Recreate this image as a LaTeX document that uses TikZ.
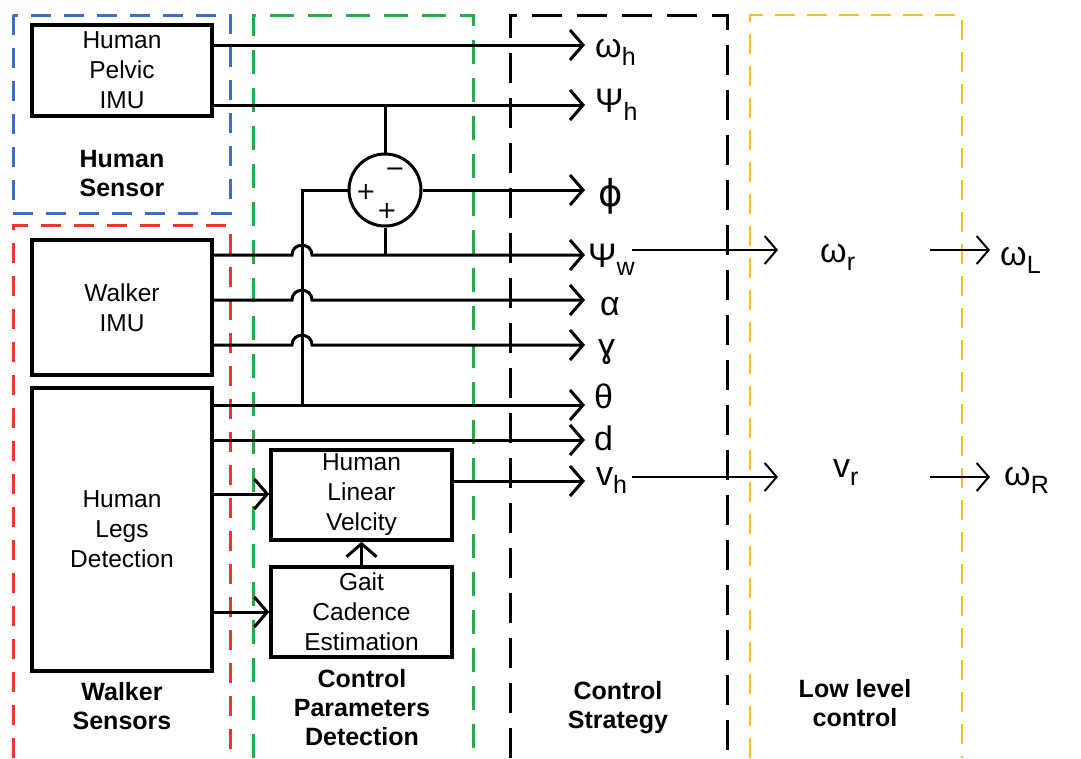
\documentclass[tikz,border=0pt]{standalone}
\usepackage{fontspec}
\setmainfont{Liberation Sans}
\newfontfamily\dvs{DejaVu Sans}
\usetikzlibrary{arrows.meta}
\definecolor{cblue}{RGB}{60,110,200}
\definecolor{cgreen}{RGB}{40,170,75}
\definecolor{cred}{RGB}{235,55,45}
\definecolor{cyellow}{RGB}{245,190,35}
\newcommand\sbs[1]{\raisebox{-8pt}{\fontsize{25}{25}\selectfont #1}}
\begin{document}
\begin{tikzpicture}[x=1pt,y=-1pt,
  box/.style={draw, line width=3.5pt, align=center, font=\fontsize{24.5}{30}\selectfont, inner sep=0pt},
  ttl/.style={align=center, font=\bfseries\fontsize{25}{29}\selectfont},
  lab/.style={anchor=base west, inner sep=0pt, font=\fontsize{34}{34}\selectfont},
  ln/.style={line width=3pt},
  arr/.style={line width=3pt, -{Straight Barb[length=13pt,width=30pt,line width=3pt]}},
  arr2/.style={line width=2pt, -{Straight Barb[length=12pt,width=28pt,line width=2pt]}},
  grp/.style={line width=3pt, dash pattern=on 20pt off 13pt}]
\useasboundingbox (0,0) rectangle (1081,758);
\fill[white] (0,0) rectangle (1081,758);
% group frames
\draw[grp, cblue] (13,15) rectangle (230,213);
\draw[grp, cred] (13,758) -- (13,225) -- (230,225) -- (230,758);
\draw[grp, cgreen, dash pattern=on 24pt off 14pt] (253,758) -- (253,15) -- (473,15) -- (473,758);
\draw[grp, black, dash pattern=on 30pt off 15pt] (510,758) -- (510,15) -- (727,15) -- (727,758);
\draw[grp, cyellow, line width=2.5pt, dash pattern=on 20pt off 12pt] (750,758) -- (750,15) -- (962,15) -- (962,758);
% titles
\node[ttl] (tHS) at (122,174) {Human\\Sensor};
\node[ttl] (tWS) at (122,706) {Walker\\Sensors};
\node[ttl] (tCP) at (362,708) {Control\\Parameters\\Detection};
\node[ttl] (tCS) at (618,708) {Control\\Strategy};
\node[ttl] (tLL) at (855,703) {Low level\\control};
% blocks
\node[box, minimum width=180pt, minimum height=91pt] (pelvic) at (122,70.5) {Human\\Pelvic\\IMU};
\node[box, minimum width=180pt, minimum height=135pt] (wimu) at (122,307.5) {Walker\\IMU};
\node[box, minimum width=180pt, minimum height=283pt] (legs) at (122,529.5) {Human\\Legs\\Detection};
\node[box, minimum width=181pt, minimum height=90pt] (hlv) at (361.5,495) {Human\\Linear\\Velcity};
\node[box, minimum width=181pt, minimum height=90pt] (gait) at (361.5,612) {Gait\\Cadence\\Estimation};
\node[circle, draw, line width=3pt, minimum size=72pt, inner sep=0pt] (sum) at (385,190) {};
\node[inner sep=0pt, font=\fontsize{24}{24}\selectfont] (sm) at (395,172) {\dvs −};
\node[inner sep=0pt, font=\fontsize{24}{24}\selectfont] (sp1) at (366,192) {\dvs +};
\node[inner sep=0pt, font=\fontsize{24}{24}\selectfont] (sp2) at (387,211) {\dvs +};
% arrow tips (free ends)
\coordinate (t1) at (585,45);
\coordinate (t2) at (585,105);
\coordinate (t3) at (585,190);
\coordinate (t4) at (585,255);
\coordinate (t5) at (585,300);
\coordinate (t6) at (585,345);
\coordinate (t7) at (585,405);
\coordinate (t8) at (585,440);
\coordinate (t9) at (585,481);
\coordinate (j) at (302,190);
% labels
\node[lab] (wh) at (595,57) {ω\sbs{h}};
\node[lab] (ph) at (595,112) {Ψ\sbs{h}};
\node[lab, font=\fontsize{37}{37}\selectfont] (phi) at (598,206) {\dvs ϕ};
\node[lab] (pw) at (588,267) {Ψ\sbs{w}};
\node[lab] (al) at (600,315) {α};
\node[lab] (ga) at (598,357) {ɣ};
\node[lab] (th) at (594,408) {θ};
\node[lab] (dd) at (594,450) {d};
\node[lab] (vh) at (596,485) {v\sbs{h}};
\node[lab] (wr) at (820,262) {ω\sbs{r}};
\node[lab] (wl) at (1000,265) {ω\sbs{L}};
\node[lab] (vr) at (833,477) {v\sbs{r}};
\node[lab] (wR) at (1004,485) {ω\sbs{R}};
% connectors
\draw[arr] (pelvic.east |- t1) -- (t1);
\draw[arr] (pelvic.east |- t2) -- (t2);
\draw[ln] (sum.north) -- (sum.north |- t2);
\draw[arr] (sum.east) -- (sum.east -| t3);
\draw[ln] (sum.west) -- (j) -- (j |- t7);
\draw[ln] (sum.south) -- (sum.south |- t4);
\draw[arr] (wimu.east |- t4) -- (292,255) .. controls (292,242) and (312,242) .. (312,255) -- (t4);
\draw[arr] (wimu.east |- t5) -- (292,300) .. controls (292,287) and (312,287) .. (312,300) -- (t5);
\draw[arr] (wimu.east |- t6) -- (292,345) .. controls (292,332) and (312,332) .. (312,345) -- (t6);
\draw[arr] (legs.east |- t7) -- (t7);
\draw[arr] (legs.east |- t8) -- (t8);
\draw[arr] (hlv.east |- t9) -- (t9);
\draw[arr] (legs.east |- 0,494) -- (hlv.west |- 0,494);
\draw[arr] (legs.east |- 0,612) -- (gait.west |- 0,612);
\draw[arr] (gait.north) -- (hlv.south);
\coordinate (a1) at (632,250);
\coordinate (a2) at (778,250);
\coordinate (a3) at (930,250);
\coordinate (a4) at (990,250);
\coordinate (b1) at (632,477);
\coordinate (b2) at (778,477);
\coordinate (b3) at (930,477);
\coordinate (b4) at (990,477);
\draw[arr2] (a1) -- (a2);
\draw[arr2] (a3) -- (a4);
\draw[arr2] (b1) -- (b2);
\draw[arr2] (b3) -- (b4);
\end{tikzpicture}
\end{document}
